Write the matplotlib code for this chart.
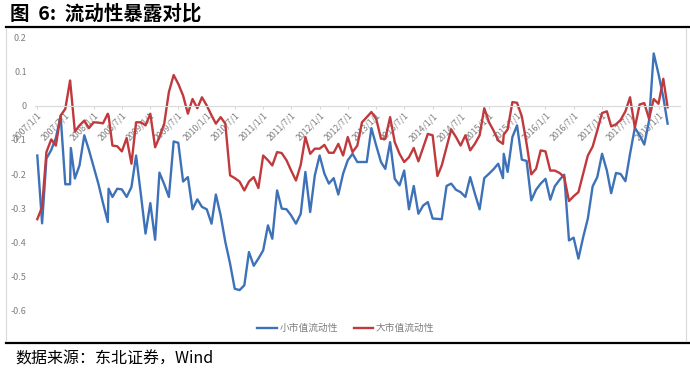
import numpy as np
import pandas as pd
import matplotlib
matplotlib.use('Agg')
import matplotlib.pyplot as plt
from matplotlib.lines import Line2D

plt.rcParams['font.family'] = ['Noto Sans CJK SC', 'DejaVu Sans']

# monthly dates 2007/1 .. 2018/3, plus three mid-month extra observations
dates = list(pd.date_range('2007-01-01', '2018-03-01', freq='MS'))
extra_dates = {7: '2007-08-06', 15: '2008-04-06', 99: '2015-04-06'}

small_cap = [-0.146, -0.344, -0.155, -0.13, -0.095, -0.03, -0.23, -0.23, -0.213, -0.175,
             -0.087, -0.13, -0.18, -0.23, -0.285, -0.34, -0.267, -0.243, -0.245, -0.267,
             -0.238, -0.146, -0.26, -0.374, -0.285, -0.392, -0.196, -0.23, -0.267, -0.105,
             -0.109, -0.222, -0.209, -0.303, -0.274, -0.296, -0.303, -0.345, -0.26, -0.321,
             -0.398, -0.462, -0.535, -0.539, -0.525, -0.428, -0.468, -0.447, -0.423, -0.35,
             -0.389, -0.248, -0.301, -0.303, -0.321, -0.345, -0.316, -0.194, -0.311, -0.204,
             -0.146, -0.199, -0.228, -0.212, -0.26, -0.199, -0.16, -0.141, -0.165, -0.165,
             -0.165, -0.066, -0.117, -0.165, -0.185, -0.107, -0.214, -0.233, -0.19, -0.303,
             -0.235, -0.316, -0.292, -0.282, -0.33, -0.331, -0.332, -0.235, -0.228, -0.246,
             -0.253, -0.267, -0.209, -0.257, -0.303, -0.212, -0.199, -0.185, -0.17, -0.212,
             -0.194, -0.092, -0.058, -0.158, -0.162, -0.277, -0.246, -0.228, -0.214, -0.275,
             -0.236, -0.217, -0.202, -0.394, -0.386, -0.447, -0.384, -0.33, -0.236, -0.209,
             -0.141, -0.19, -0.256, -0.197, -0.2, -0.221, -0.141, -0.065, -0.087, -0.114,
             -0.044, 0.152, 0.092, 0.024, -0.053]
small_cap_extra = {7: -0.124, 15: -0.243, 99: -0.141}

large_cap = [-0.332, -0.296, -0.136, -0.099, -0.117, -0.029, -0.01, 0.073, -0.076, -0.058,
             -0.044, -0.066, -0.049, -0.05, -0.052, -0.024, -0.117, -0.119, -0.134, -0.095,
             -0.17, -0.049, -0.049, -0.058, -0.024, -0.122, -0.092, -0.053, 0.039, 0.089,
             0.063, 0.029, -0.024, 0.019, -0.008, 0.024, 0.0, -0.029, -0.053, -0.034,
             -0.053, -0.204, -0.212, -0.222, -0.248, -0.222, -0.209, -0.241, -0.146, -0.16,
             -0.175, -0.136, -0.139, -0.16, -0.19, -0.219, -0.173, -0.092, -0.141, -0.126,
             -0.126, -0.115, -0.138, -0.138, -0.112, -0.146, -0.092, -0.136, -0.117, -0.049,
             -0.034, -0.019, -0.039, -0.097, -0.097, -0.034, -0.107, -0.141, -0.165, -0.151,
             -0.124, -0.163, -0.122, -0.083, -0.087, -0.206, -0.175, -0.122, -0.07, -0.092,
             -0.117, -0.087, -0.131, -0.112, -0.087, -0.008, -0.049, -0.075, -0.102, -0.112,
             -0.07, 0.01, 0.008, -0.032, -0.112, -0.201, -0.185, -0.131, -0.134, -0.19,
             -0.19, -0.197, -0.209, -0.279, -0.265, -0.253, -0.199, -0.146, -0.12, -0.073,
             -0.022, -0.017, -0.061, -0.055, -0.042, -0.017, 0.024, -0.065, 0.003, 0.007,
             -0.039, 0.019, 0.005, 0.078, -0.005]
large_cap_extra = {7: 0.05, 15: -0.03, 99: -0.085}

series_names = ['小市值流动性', '大市值流动性']
tick_dates = pd.date_range('2007-01-01', '2018-01-01', freq='6MS')
tick_labels = [f'{d.year}/{d.month}/1' for d in tick_dates]

# merge in the extra observations
df = pd.DataFrame({'date': dates, 'small': small_cap, 'large': large_cap})
extra = pd.DataFrame({'date': pd.to_datetime(list(extra_dates.values())),
                      'small': [small_cap_extra[k] for k in extra_dates],
                      'large': [large_cap_extra[k] for k in extra_dates]})
df = pd.concat([df, extra]).sort_values('date').reset_index(drop=True)

blue = '#3d72b9'
red = '#c0393d'
grey = '#7f7f7f'

fig = plt.figure(figsize=(6.9, 3.69), dpi=100)

# title and frame lines
fig.text(0.014, 0.962, '图  6:  流动性暴露对比', fontsize=14, fontweight='bold', va='center')
fig.add_artist(Line2D([0.008, 1.0], [0.927, 0.927], color='black', lw=1.6))
fig.add_artist(Line2D([0.008, 1.0], [0.071, 0.071], color='black', lw=1.6))
fig.add_artist(Line2D([0.008, 0.008], [0.076, 0.925], color='#d9d9d9', lw=0.8))
fig.add_artist(Line2D([0.994, 0.994], [0.076, 0.925], color='#d9d9d9', lw=0.8))
fig.text(0.022, 0.028, '数据来源：东北证券，Wind', fontsize=11.5, va='center')

ax = fig.add_axes([0.0507, 0.1572, 0.9348, 0.7425])
ax.plot(df['date'], df['small'], color=blue, lw=1.7, label=series_names[0])
ax.plot(df['date'], df['large'], color=red, lw=1.7, label=series_names[1])

ax.set_ylim(-0.6, 0.2)
ax.set_yticks(np.arange(-0.6, 0.21, 0.1))
ax.set_yticklabels(['-0.6', '-0.5', '-0.4', '-0.3', '-0.2', '-0.1', '0', '0.1', '0.2'])
ax.set_xlim(pd.Timestamp('2006-12-17'), pd.Timestamp('2018-05-20'))

for s in ['top', 'right', 'left']:
    ax.spines[s].set_visible(False)
ax.spines['bottom'].set_position(('data', 0))
ax.spines['bottom'].set_color('#d9d9d9')
ax.spines['bottom'].set_linewidth(0.8)

ax.set_xticks(tick_dates)
ax.set_xticklabels(tick_labels, rotation=45, ha='right', rotation_mode='anchor')
ax.tick_params(axis='x', length=2.5, color='#d9d9d9', labelsize=6.3, labelcolor=grey, pad=1.5)
ax.tick_params(axis='y', length=0, labelsize=6.5, labelcolor=grey, pad=6)

ax.legend(loc='center', bbox_to_anchor=(0.482, -0.062), ncol=2, frameon=False,
          fontsize=7, labelcolor=grey, handlelength=2.0, columnspacing=1.6, handletextpad=0.3)

fig.savefig('out.png', dpi=100)
